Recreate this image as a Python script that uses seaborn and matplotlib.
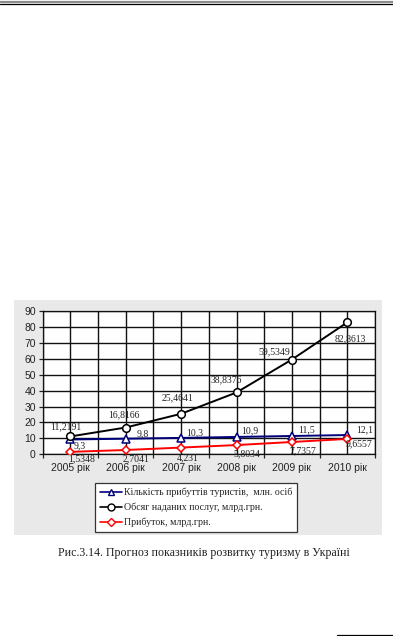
import numpy as np
import pandas as pd
import matplotlib
matplotlib.use("Agg")
import matplotlib.pyplot as plt
from matplotlib.patches import Rectangle
from matplotlib.lines import Line2D
import seaborn as sns

# ── Data ─────────────────────────────────────────────────────────────────────
years = ["2005 рік", "2006 рік", "2007 рік", "2008 рік", "2009 рік", "2010 рік"]
tourists = [9.3, 9.8, 10.3, 10.9, 11.5, 12.1]
services = [11.2191, 16.8166, 25.4641, 38.8376, 59.5349, 82.8613]
profit = [1.5348, 2.7041, 4.231, 5.8034, 7.7357, 9.6557]

tourists_lbl = ["9,3", "9,8", "10,3", "10,9", "11,5", "12,1"]
services_lbl = ["11,2191", "16,8166", "25,4641", "38,8376", "59,5349", "82,8613"]
profit_lbl = ["1,5348", "2,7041", "4,231", "5,8034", "7,7357", "9,6557"]

names = ["Кількість прибуттів туристів,  млн. осіб",
         "Обсяг наданих послуг, млрд.грн.",
         "Прибуток, млрд.грн."]
caption = "Рис.3.14. Прогноз показників розвитку туризму в Україні"

# ── Style ────────────────────────────────────────────────────────────────────
sns.set_style("white")
plt.rcParams["font.family"] = ["Liberation Sans", "DejaVu Sans"]
SERIF = ["Liberation Serif", "DejaVu Serif"]
NAVY, BLACK, RED = "#00007a", "#000000", "#ff0000"
PANEL = "#e9e9e9"

fig = plt.figure(figsize=(3.93, 6.36), dpi=100)
fig.patch.set_facecolor("white")

# page rules
fig.add_artist(Line2D([0, 1], [1 - 1.5 / 636] * 2, color="#8c8c8c", lw=1.6))
fig.add_artist(Line2D([0, 1], [1 - 4.2 / 636] * 2, color="black", lw=0.9))
fig.add_artist(Line2D([337 / 393, 1], [1 - 634.5 / 636] * 2, color="black", lw=0.9))

# gray chart panel
fig.add_artist(Rectangle((14 / 393, 101 / 636), 368 / 393, 235 / 636,
                         transform=fig.transFigure, facecolor=PANEL,
                         edgecolor="none", zorder=0))

ax = fig.add_axes([42.7 / 393, 181.7 / 636, 332.3 / 393, 143.3 / 636])
ax.set_facecolor("white")

x = np.arange(len(years))
df = pd.DataFrame({"x": x, "tourists": tourists,
                   "services": services, "profit": profit})

series = [("tourists", NAVY, "^", names[0]),
          ("services", BLACK, "o", names[1]),
          ("profit", RED, "D", names[2])]
for col, color, mk, name in series:
    ms = 5.5 if mk != "D" else 4.5
    sns.lineplot(data=df, x="x", y=col, ax=ax, color=color, lw=1.4,
                 marker=mk, markersize=ms, markerfacecolor="white",
                 markeredgecolor=color, markeredgewidth=1.1,
                 label=name, zorder=4, legend=False)

# data labels (offsets in pixels)
def put(vals, lbls, offs):
    for xi, v, t, (dx, dy) in zip(x, vals, lbls, offs):
        ax.annotate(t, (xi, v), xytext=(dx, dy), textcoords="offset pixels",
                    ha="center", va="center", fontsize=7, family=SERIF,
                    color="#222222", zorder=5, annotation_clip=False)

put(services, services_lbl,
    [(-5, 10), (-2, 13), (-4, 16), (-10, 13), (-18, 8), (3, -16)])
put(tourists, tourists_lbl,
    [(9, -6), (17, 5), (14, 5), (13, 6), (15, 6), (17, 5)])
put(profit, profit_lbl,
    [(11, -7), (10, -9), (7, -10), (10, -9), (11, -9), (12, -5)])

# axes & grid
ax.set_xlim(-0.5, 5.5)
ax.set_ylim(0, 90)
ax.set_yticks(np.arange(0, 91, 10))
ax.set_xticks(x)
ax.set_xticklabels(years)
ax.set_xticks(np.arange(-0.5, 5.6, 1.0), minor=True)
ax.grid(True, which="both", color="#111111", lw=1.0)
ax.set_axisbelow(True)
ax.set_xlabel("")
ax.set_ylabel("")
ax.tick_params(axis="y", left=True, length=3, width=0.9, labelsize=7.5,
               colors="#222222", pad=2)
ax.tick_params(axis="x", which="major", length=0, labelsize=7.5,
               colors="#222222", pad=6)
ax.tick_params(axis="x", which="minor", bottom=True, length=3, width=0.9)
for s in ax.spines.values():
    s.set_color("#111111")
    s.set_linewidth(0.9)

# legend
handles = [Line2D([], [], color=c, lw=1.2, marker=m,
                  markersize=(5 if m != "D" else 4.5),
                  markerfacecolor="white", markeredgecolor=c,
                  markeredgewidth=1.0)
           for _, c, m, _ in series]
leg = fig.legend(handles, names, loc="upper left",
                 bbox_to_anchor=(95 / 393, 153 / 636),
                 bbox_transform=fig.transFigure, borderaxespad=0,
                 prop={"family": SERIF, "size": 7.1}, frameon=True,
                 fancybox=False, edgecolor="#333333", framealpha=1,
                 handlelength=2.2, handletextpad=0.2, labelspacing=0.55,
                 borderpad=0.5)
leg.get_frame().set_linewidth(0.9)

fig.text(204 / 393, 1 - 553 / 636, caption, ha="center", va="center",
         fontsize=8.6, family=SERIF, color="#222222")

fig.savefig("out.png", dpi=100, facecolor="white")
